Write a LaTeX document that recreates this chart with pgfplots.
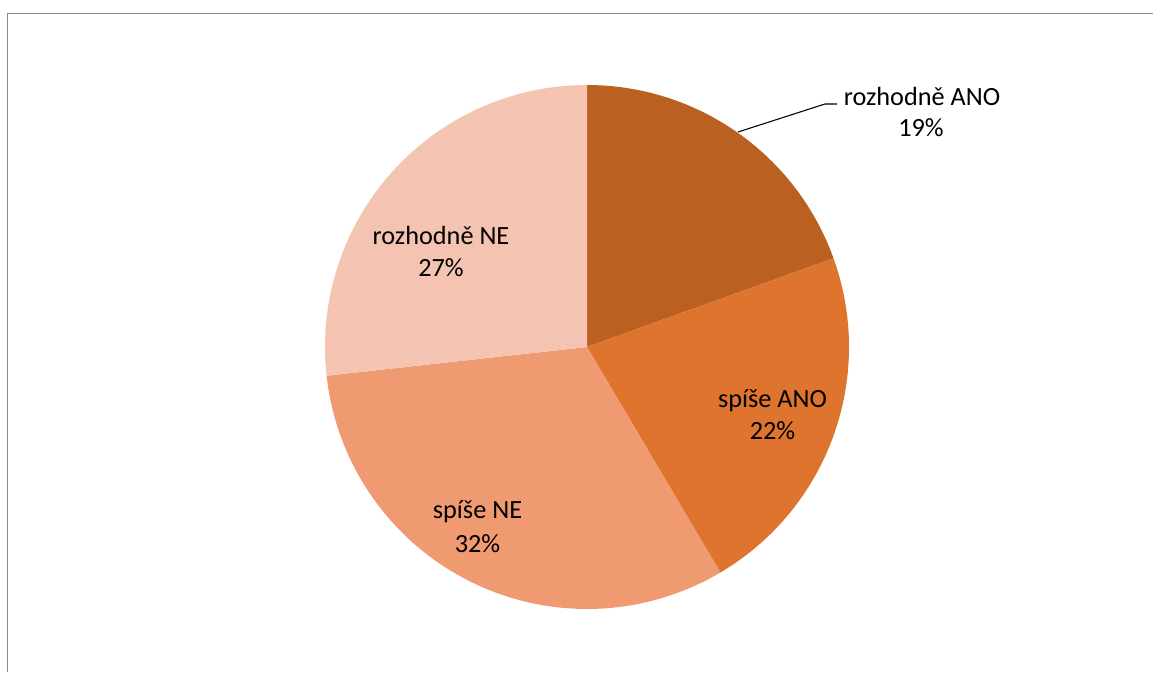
\documentclass[border=0pt]{standalone}
\usepackage{pgfplots}
\pgfplotsset{compat=1.18}
\usepackage{pgfplotstable}
\usepackage{fontspec}
\setmainfont{Carlito}
\definecolor{c1}{HTML}{BA6122}
\definecolor{c2}{HTML}{DE742E}
\definecolor{c3}{HTML}{F09A71}
\definecolor{c4}{HTML}{F5C3B1}
\definecolor{frame}{HTML}{8C8C8C}

\pgfplotstableread[col sep=comma]{
label,value,color
rozhodně ANO,19.5,c1
spíše ANO,22.0,c2
spíše NE,31.75,c3
rozhodně NE,26.75,c4
}\piedata

\tikzset{lab/.style={anchor=base, inner sep=0pt, font=\fontsize{19.7}{23.6}\selectfont}}

\begin{document}
\begin{tikzpicture}
\path[use as bounding box] (0,0) rectangle (864.75pt,504pt);
\begin{axis}[
  at={(0,0)}, anchor=south west,
  width=864.75pt, height=504pt, scale only axis,
  xmin=0, xmax=1153, ymin=0, ymax=672,
  hide axis, clip=false,
]
\pgfplotstablegetrowsof{\piedata}
\pgfmathtruncatemacro\N{\pgfplotsretval-1}
\def\cum{0}
\pgfplotsforeachungrouped \i in {0,...,\N}{%
  \pgfplotstablegetelem{\i}{value}\of\piedata \let\v\pgfplotsretval
  \pgfplotstablegetelem{\i}{color}\of\piedata \let\c\pgfplotsretval
  \pgfmathsetmacro\a{90-3.6*\cum}%
  \pgfmathsetmacro\b{90-3.6*(\cum+\v)}%
  \edef\temp{\noexpand\fill[\c] (axis cs:587,325) -- ([shift={(\a:196.5pt)}]axis cs:587,325) arc[start angle=\a, end angle=\b, radius=196.5pt] -- cycle;}%
  \temp
  \pgfmathsetmacro\cum{\cum+\v}%
}
% frame
\draw[frame, line width=1.3pt] (axis cs:7.5,0) -- (axis cs:7.5,658.5) -- (axis cs:1153,658.5);
% leader line
\draw[black, line width=0.8pt] (axis cs:738,540) -- (axis cs:825,568) -- (axis cs:837,568);
% labels
\node[lab] at (axis cs:922,566) {rozhodně ANO};
\node[lab] at (axis cs:921,535) {19\%};
\node[lab] at (axis cs:772.5,265) {spíše ANO};
\node[lab] at (axis cs:772.5,233) {22\%};
\node[lab] at (axis cs:477.5,154) {spíše NE};
\node[lab] at (axis cs:477.5,120) {32\%};
\node[lab] at (axis cs:441,427) {rozhodně NE};
\node[lab] at (axis cs:441,395) {27\%};
\end{axis}
\end{tikzpicture}
\end{document}
